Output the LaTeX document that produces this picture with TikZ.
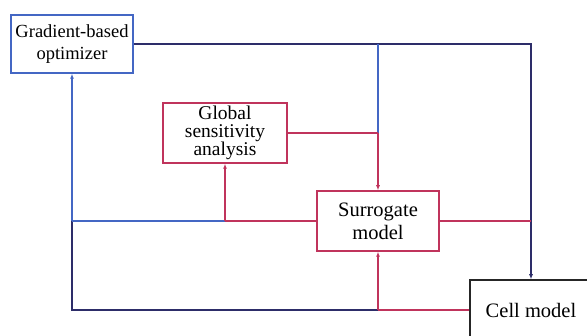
\documentclass[tikz,border=0pt]{standalone}
\usepackage{fontspec}
\setmainfont{Liberation Serif}
\usetikzlibrary{arrows.meta}
\definecolor{cblue}{RGB}{68,103,196}
\definecolor{cred}{RGB}{192,52,92}
\definecolor{cnavy}{RGB}{45,45,105}
\begin{document}
\begin{tikzpicture}[x=1pt,y=-1pt,
  box/.style={draw, line width=1.5pt, inner sep=0pt, align=center, fill=white},
  ln/.style={line width=1.5pt},
  tip/.style={-{Latex[length=5pt,width=4pt]}}]
\useasboundingbox (0,0) rectangle (587,336);
\node[box, draw=cblue, minimum width=122pt, minimum height=58pt,
  font=\fontsize{18.5}{22}\selectfont] (grad) at (72,44) {Gradient-based\\optimizer};
\node[box, draw=cred, minimum width=124pt, minimum height=60pt,
  font=\fontsize{19.5}{18}\selectfont] (gsa) at (225,133) {Global\\sensitivity\\analysis};
\node[box, draw=cred, minimum width=122pt, minimum height=60pt,
  font=\fontsize{20.5}{23}\selectfont] (sur) at (378,221) {Surrogate\\model};
\node[box, draw=black!85, minimum width=122pt, minimum height=60pt,
  font=\fontsize{20.5}{24}\selectfont] (cell) at (531,310) {Cell model};
\coordinate (jtop) at (378,44);
\coordinate (jmid) at (378,133);
\coordinate (jgsa) at (225,221);
\coordinate (jleft) at (72,221);
\coordinate (jbot) at (378,310);
\coordinate (jright) at (531,221);
% navy
\draw[ln, cnavy, tip] (grad.east) -- (531,44) -- (cell.north);
\draw[ln, cnavy] (jleft) |- (jbot);
% blue
\draw[ln, cblue] (jtop) -- (jmid);
\draw[ln, cblue] (jgsa) -- (jleft);
\draw[ln, cblue, tip] (jleft) -- (grad.south);
% red
\draw[ln, cred] (gsa.east) -- (jmid);
\draw[ln, cred, tip] (jmid) -- (sur.north);
\draw[ln, cred] (sur.west) -- (jgsa);
\draw[ln, cred, tip] (jgsa) -- (gsa.south);
\draw[ln, cred] (cell.west) -- (jbot);
\draw[ln, cred, tip] (jbot) -- (sur.south);
\draw[ln, cred] (sur.east) -- (jright);
\end{tikzpicture}
\end{document}
